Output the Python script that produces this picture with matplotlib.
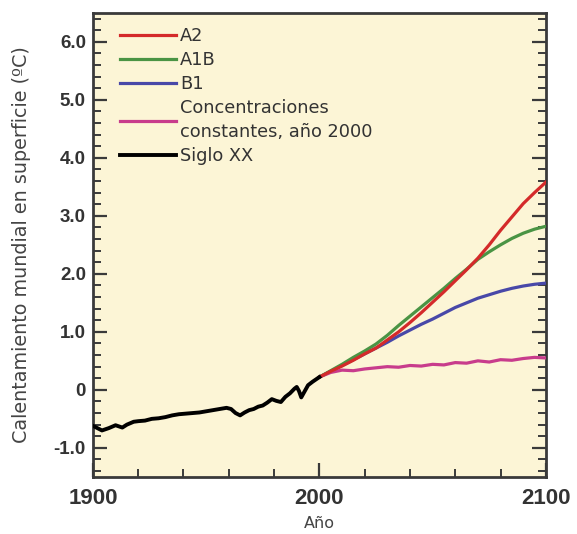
import numpy as np
import matplotlib
matplotlib.use("Agg")
import matplotlib.pyplot as plt
from matplotlib.ticker import MultipleLocator, FixedLocator

# Siglo XX (observado)
hist_years = [1900, 1902, 1904, 1907, 1910, 1913, 1915, 1918, 1920, 1923, 1926, 1929,
              1932, 1935, 1938, 1941, 1944, 1947, 1950, 1953, 1956, 1959, 1961, 1963,
              1965, 1967, 1969, 1971, 1973, 1975, 1977, 1979, 1981, 1983, 1985, 1987,
              1989, 1990, 1991, 1992, 1993, 1995, 1997, 2000]
hist_vals = [-0.62, -0.66, -0.70, -0.66, -0.61, -0.65, -0.60, -0.55, -0.54, -0.53, -0.50, -0.49,
             -0.47, -0.44, -0.42, -0.41, -0.40, -0.39, -0.37, -0.35, -0.33, -0.31, -0.33, -0.40,
             -0.44, -0.39, -0.35, -0.33, -0.29, -0.27, -0.22, -0.16, -0.19, -0.21, -0.12, -0.06,
             0.02, 0.05, -0.02, -0.13, -0.06, 0.08, 0.14, 0.22]

# escenarios
fut_years = [2000, 2005, 2010, 2015, 2020, 2025, 2030, 2035, 2040, 2045, 2050,
             2055, 2060, 2065, 2070, 2075, 2080, 2085, 2090, 2095, 2100]
a2 = [0.22, 0.32, 0.41, 0.51, 0.62, 0.72, 0.86, 1.00, 1.16, 1.33, 1.51,
      1.69, 1.88, 2.07, 2.27, 2.50, 2.75, 2.98, 3.21, 3.40, 3.58]
a1b = [0.22, 0.33, 0.44, 0.56, 0.67, 0.79, 0.94, 1.11, 1.27, 1.43, 1.59,
       1.75, 1.92, 2.08, 2.25, 2.38, 2.50, 2.61, 2.70, 2.77, 2.82]
b1 = [0.22, 0.32, 0.42, 0.52, 0.62, 0.72, 0.82, 0.93, 1.03, 1.13, 1.22,
      1.32, 1.42, 1.50, 1.58, 1.64, 1.70, 1.75, 1.79, 1.82, 1.84]
const2000 = [0.22, 0.30, 0.34, 0.33, 0.36, 0.38, 0.40, 0.39, 0.42, 0.41, 0.44,
             0.43, 0.47, 0.46, 0.50, 0.48, 0.52, 0.51, 0.54, 0.56, 0.55]

y_ticks = [-1, 0, 1, 2, 3, 4, 5, 6]
y_labels = ["-1.0", "0", "1.0", "2.0", "3.0", "4.0", "5.0", "6.0"]
x_ticks = [1900, 2000, 2100]

txt = "#3a3a3a"
fig = plt.figure(figsize=(5.77, 5.34), dpi=100)
ax = fig.add_axes([0.161, 0.107, 0.785, 0.869])
ax.set_facecolor("#fcf5d6")

lw = 2.3
ax.plot(fut_years, a2, color="#d42a2a", lw=lw, label="A2", zorder=5)
ax.plot(fut_years, a1b, color="#4a9444", lw=lw, label="A1B", zorder=4)
ax.plot(fut_years, b1, color="#4848a8", lw=lw, label="B1", zorder=3)
ax.plot(fut_years, const2000, color="#c83c8c", lw=lw,
        label="Concentraciones\nconstantes, año 2000", zorder=3)
ax.plot(hist_years, hist_vals, color="black", lw=2.8, label="Siglo XX", zorder=6)

ax.set_xlim(1900, 2100)
ax.set_ylim(-1.5, 6.5)

ax.xaxis.set_major_locator(FixedLocator(x_ticks))
ax.xaxis.set_minor_locator(MultipleLocator(20))
ax.yaxis.set_major_locator(FixedLocator(y_ticks))
ax.set_yticklabels(y_labels)
ax.yaxis.set_minor_locator(MultipleLocator(0.2))

ax.tick_params(which="both", direction="in", top=False, right=True, color=txt)
ax.tick_params(which="major", length=10, width=1.6)
ax.tick_params(which="minor", length=6, width=1.4)
ax.tick_params(axis="x", which="major", pad=8, labelsize=16, labelcolor="#333333")
ax.tick_params(axis="y", which="major", pad=5, labelsize=13.5, labelcolor="#333333")
for lab in ax.get_xticklabels() + ax.get_yticklabels():
    lab.set_fontfamily("Liberation Sans")
    lab.set_fontweight("bold")

for s in ax.spines.values():
    s.set_color(txt)
    s.set_linewidth(2)

ax.set_xlabel("Año", fontsize=11.5, color="#444444")
ax.xaxis.set_label_coords(0.5, -0.084)
ax.set_ylabel("Calentamiento mundial en superficie (ºC)", fontsize=13.8,
              color="#444444", labelpad=16)

leg = ax.legend(loc="upper left", bbox_to_anchor=(0.06, 0.970), frameon=False,
                fontsize=12.8, handlelength=3.15, handletextpad=0.22,
                labelspacing=0.35, borderaxespad=0, borderpad=0)
for t in leg.get_texts():
    t.set_color("#333333")
    t.set_linespacing(1.37)

fig.savefig("out.png", dpi=100)
